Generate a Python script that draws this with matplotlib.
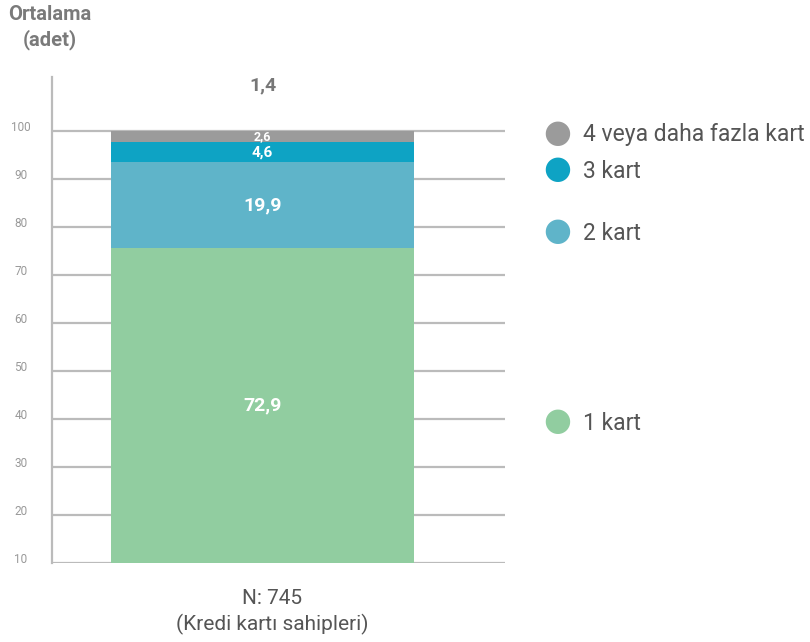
import numpy as np
import matplotlib.pyplot as plt
from matplotlib.transforms import blended_transform_factory

plt.rcParams['font.family'] = ['Roboto', 'DejaVu Sans']

# kart sayisi dagilimi (%), alttan uste
kategoriler = ['1 kart', '2 kart', '3 kart', '4 veya daha fazla kart']
degerler = [72.9, 19.9, 4.6, 2.6]
renkler = ['#91cda0', '#5fb4c9', '#0ea3c4', '#9b9b9b']
ortalama = 1.4
tick_etiketleri = [10, 20, 30, 40, 50, 60, 70, 80, 90, 100]

fig = plt.figure(figsize=(8.1, 6.42), dpi=100)
ax = fig.add_axes([0.0642, 0.1231, 0.5593, 0.757])

ax.set_xlim(0, 1)
ax.set_ylim(0, 112.5)

tick_pos = np.linspace(0, 100, len(tick_etiketleri))
tr = blended_transform_factory(fig.transFigure, ax.transData)
for y, et in zip(tick_pos, tick_etiketleri):
    ax.axhline(y, color='#bbbbbb', lw=1.6, zorder=1)
    ax.text(21 / 810, y + 0.7, str(et), transform=tr, ha='center',
            va='center', fontsize=8.5, color='#999999')

bar_x = 0.465
bar_w = 0.669
alt = 0
for deger, renk in zip(degerler, renkler):
    ax.bar(bar_x, deger, width=bar_w, bottom=alt, color=renk, zorder=2)
    # ince dilimlerde yazi kuculur
    fs = 14 if deger > 10 else (11 if deger > 4 else 9)
    ax.text(bar_x, alt + deger / 2, f'{deger:.1f}'.replace('.', ','),
            ha='center', va='center', color='white', fontsize=fs,
            fontweight='bold', zorder=3)
    alt += deger

ax.text(bar_x, 110.6, f'{ortalama:.1f}'.replace('.', ','), ha='center',
        va='center', color='#777777', fontsize=14, fontweight='bold')

for s in ['top', 'right', 'bottom']:
    ax.spines[s].set_visible(False)
ax.spines['left'].set_color('#bbbbbb')
ax.spines['left'].set_linewidth(1.6)
ax.set_xticks([])
ax.set_yticks([])

fig.text(50 / 810, 1 - 15 / 642, 'Ortalama', ha='center', va='center',
         fontsize=14.5, fontweight='bold', color='#7a7a7a')
fig.text(50 / 810, 1 - 40 / 642, '(adet)', ha='center', va='center',
         fontsize=14.5, fontweight='bold', color='#7a7a7a')

fig.text(272 / 810, 1 - 598 / 642, 'N: 745', ha='center', va='center',
         fontsize=15, color='#555555')
fig.text(272 / 810, 1 - 624 / 642, '(Kredi kartı sahipleri)', ha='center',
         va='center', fontsize=15, color='#555555')

# lejant
lejant_y = [422, 232, 170, 133]
for ad, renk, py in zip(kategoriler, renkler, lejant_y):
    fig.text(557 / 810, 1 - py / 642, '\u25cf', ha='center', va='center',
             fontsize=23, color=renk, family=['DejaVu Sans'])
    fig.text(583 / 810, 1 - (py + 1) / 642, ad, ha='left', va='center',
             fontsize=16.5, color='#555555')

fig.savefig('out.png', dpi=100)
